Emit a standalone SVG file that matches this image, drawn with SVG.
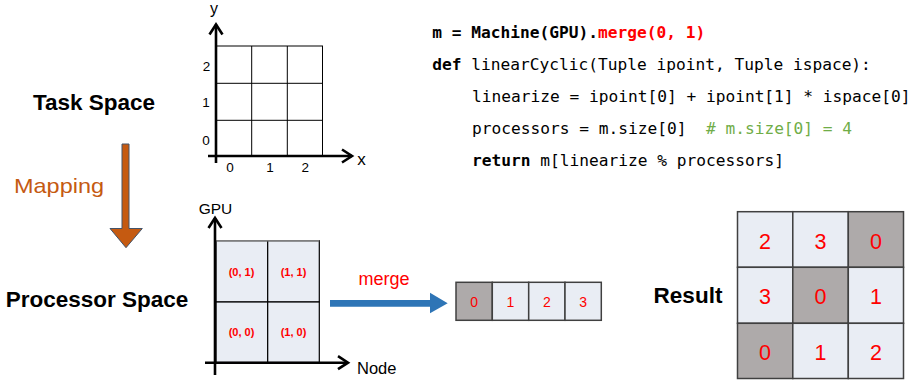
<svg xmlns="http://www.w3.org/2000/svg" width="915" height="382" viewBox="0 0 915 382">
  <style>
    .sans { font-family: "Liberation Sans", Arial, sans-serif; }
    .title { font-family: "Liberation Sans", Arial, sans-serif; font-weight: bold; font-size: 22.5px; fill: #000; }
    .tick { font-family: "Liberation Sans", Arial, sans-serif; font-size: 13.5px; fill: #000; text-anchor: middle; }
    .axis { stroke: #000; stroke-width: 2.6; fill: none; marker-end: url(#chev); }
    .grid { stroke: #000; stroke-width: 1; fill: none; }
    .cell { fill: #E9EDF4; stroke: #404040; stroke-width: 1.5; }
    .cell.hot { fill: #AEAAAA; }
    .pcell { fill: #E9EDF4; stroke: #000; stroke-width: 1.2; }
    .coord { font-family: "Liberation Sans", Arial, sans-serif; font-weight: bold; font-size: 11px; fill: #FF0000; text-anchor: middle; }
    .num { font-family: "Liberation Sans", Arial, sans-serif; fill: #FF0000; text-anchor: middle; }
    .code { font-family: "DejaVu Sans Mono", "Liberation Mono", monospace; font-size: 16.2px; fill: #000; white-space: pre; }
    .kw { font-weight: bold; }
    .red { fill: #FF0000; }
    .cmt { fill: #70AD47; }
  </style>
  <defs>
    <marker id="chev" markerUnits="userSpaceOnUse" orient="auto" refX="0" refY="0" markerWidth="20" markerHeight="20" overflow="visible">
      <path d="M-10,-6.5 L0,0 L-10,6.5" fill="none" stroke="#000" stroke-width="2.6" stroke-linejoin="miter"/>
    </marker>
  </defs>

  <!-- Task space: label and 3x3 index grid -->
  <g id="task-space-label">
    <text class="title" x="94" y="110" text-anchor="middle">Task Space</text>
  </g>
  <g id="task-grid">
    <rect class="grid" x="216" y="46" width="106.5" height="110"/>
    <line class="grid" x1="251.7" y1="46" x2="251.7" y2="156"/>
    <line class="grid" x1="287.3" y1="46" x2="287.3" y2="156"/>
    <line class="grid" x1="216" y1="83.3" x2="322.5" y2="83.3"/>
    <line class="grid" x1="216" y1="120.3" x2="322.5" y2="120.3"/>
    <line class="axis" x1="216" y1="163" x2="216" y2="24.5"/>
    <line class="axis" x1="208" y1="156" x2="352" y2="156"/>
    <text class="sans" x="214" y="14" font-size="16" text-anchor="middle">y</text>
    <text class="sans" x="361.5" y="165" font-size="17" text-anchor="middle">x</text>
    <text class="tick" x="206.5" y="70.5">2</text>
    <text class="tick" x="206" y="107">1</text>
    <text class="tick" x="206" y="145">0</text>
    <text class="tick" x="230" y="171.5">0</text>
    <text class="tick" x="270" y="171.5">1</text>
    <text class="tick" x="305.3" y="171.5">2</text>
  </g>

  <!-- Processor space: label and 2x2 machine grid -->
  <g id="processor-space-label">
    <text class="title" x="97" y="306.5" text-anchor="middle">Processor Space</text>
  </g>
  <g id="processor-grid">
    <rect class="pcell" x="216" y="240.7" width="51.7" height="61.3"/>
    <rect class="pcell" x="267.7" y="240.7" width="51.6" height="61.3"/>
    <rect class="pcell" x="216" y="302" width="51.7" height="60.5"/>
    <rect class="pcell" x="267.7" y="302" width="51.6" height="60.5"/>
    <line x1="216" y1="240.7" x2="319.3" y2="240.7" stroke="#7F7F7F" stroke-width="1.6"/>
    <text class="coord" x="241.5" y="276">(0, 1)</text>
    <text class="coord" x="293.5" y="276">(1, 1)</text>
    <text class="coord" x="241.5" y="336">(0, 0)</text>
    <text class="coord" x="293.5" y="336">(1, 0)</text>
    <line class="axis" x1="215" y1="375" x2="215" y2="218"/>
    <line class="axis" x1="205" y1="362.7" x2="348" y2="362.7"/>
    <text class="sans" x="215.5" y="214" font-size="15.5" text-anchor="middle">GPU</text>
    <text class="sans" x="357" y="373.5" font-size="16.5">Node</text>
  </g>

  <!-- Merged one-dimensional machine -->
  <g id="merged-array">
    <rect class="cell hot" x="456" y="282.3" width="36.3" height="38"/>
    <rect class="cell" x="492.3" y="282.3" width="36.4" height="38"/>
    <rect class="cell" x="528.7" y="282.3" width="36.3" height="38"/>
    <rect class="cell" x="565" y="282.3" width="36.3" height="38"/>
    <text class="num" x="474.2" y="306.8" font-size="14">0</text>
    <text class="num" x="510.5" y="306.8" font-size="14">1</text>
    <text class="num" x="546.8" y="306.8" font-size="14">2</text>
    <text class="num" x="583.1" y="306.8" font-size="14">3</text>
  </g>

  <!-- Resulting task-to-processor assignment -->
  <g id="result-label">
    <text class="title" x="688" y="302.7" text-anchor="middle">Result</text>
  </g>
  <g id="result-grid">
    <rect class="cell" x="737.5" y="211.7" width="55.3" height="55.6"/>
    <rect class="cell" x="792.8" y="211.7" width="55.5" height="55.6"/>
    <rect class="cell hot" x="848.3" y="211.7" width="55.2" height="55.6"/>
    <rect class="cell" x="737.5" y="267.3" width="55.3" height="56"/>
    <rect class="cell hot" x="792.8" y="267.3" width="55.5" height="56"/>
    <rect class="cell" x="848.3" y="267.3" width="55.2" height="56"/>
    <rect class="cell hot" x="737.5" y="323.3" width="55.3" height="55.2"/>
    <rect class="cell" x="792.8" y="323.3" width="55.5" height="55.2"/>
    <rect class="cell" x="848.3" y="323.3" width="55.2" height="55.2"/>
    <g font-size="21.5">
      <text class="num" x="765" y="248.5">2</text>
      <text class="num" x="820.5" y="248.5">3</text>
      <text class="num" x="876" y="248.5">0</text>
      <text class="num" x="765" y="304.3">3</text>
      <text class="num" x="820.5" y="304.3">0</text>
      <text class="num" x="876" y="304.3">1</text>
      <text class="num" x="765" y="360.2">0</text>
      <text class="num" x="820.5" y="360.2">1</text>
      <text class="num" x="876" y="360.2">2</text>
    </g>
  </g>

  <!-- Mapping function source -->
  <g id="code">
    <text class="code" x="432.3" y="38.3"><tspan class="kw">m = Machine(GPU).</tspan><tspan class="kw red">merge(0, 1)</tspan></text>
    <text class="code" x="432.3" y="70"><tspan class="kw">def</tspan> linearCyclic(Tuple ipoint, Tuple ispace):</text>
    <text class="code" x="472" y="102.3">linearize = ipoint[0] + ipoint[1] * ispace[0]</text>
    <text class="code" x="472" y="134.3">processors = m.size[0]  <tspan class="cmt"># m.size[0] = 4</tspan></text>
    <text class="code" x="472" y="166"><tspan class="kw">return</tspan> m[linearize % processors]</text>
  </g>

  <!-- Connectors -->
  <g id="connectors">
    <g id="mapping-arrow">
      <polygon points="122,144 129,144 129,228.5 142.3,228.5 126,247.7 110,228.5 122,228.5" fill="#C55A11" stroke="#44546A" stroke-width="1"/>
      <text x="59" y="193" font-family="'Liberation Sans', Arial, sans-serif" font-size="21" fill="#C55A11" text-anchor="middle" textLength="90" lengthAdjust="spacingAndGlyphs">Mapping</text>
    </g>
    <g id="merge-arrow">
      <polygon points="330,300 430,300 430,292.7 447.7,303.3 430,313.3 430,306.7 330,306.7" fill="#2E75B6"/>
      <text x="384" y="285" font-family="'Liberation Sans', Arial, sans-serif" font-size="18" fill="#FF0000" text-anchor="middle">merge</text>
    </g>
  </g>
</svg>
